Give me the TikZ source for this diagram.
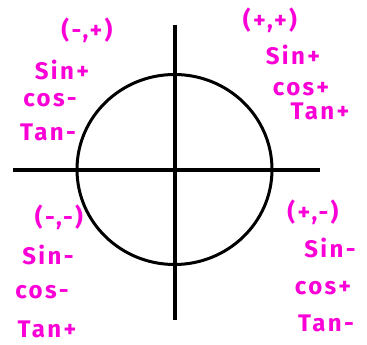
\documentclass[tikz,border=0pt]{standalone}
\usepackage{fontspec}
\setmainfont{Fira Sans}[LetterSpace=10]
\definecolor{pen}{RGB}{250,0,215}
\begin{document}
\begin{tikzpicture}[x=1pt,y=-1pt,
  lbl/.style={text=pen,font=\fontsize{24}{26}\selectfont\bfseries,inner sep=0pt,anchor=center},
  axis/.style={line width=4pt},
  ring/.style={line width=3pt}]
\useasboundingbox (0,0) rectangle (367,345);
% axes
\coordinate (L) at (13,170);
\coordinate (R) at (320,170);
\coordinate (T) at (174.5,25);
\coordinate (B) at (174.5,320);
\coordinate (O) at (174.5,169.5);
\draw[axis] (L) -- (R);
\draw[axis] (T) -- (B);
\draw[ring] (O) ellipse [x radius=97.5, y radius=95];
% quadrant II
\node[lbl] (q2a) at (87,30) {(-,+)};
\node[lbl] (q2b) at (62,70) {Sin+};
\node[lbl] (q2c) at (50,100) {cos-};
\node[lbl] (q2d) at (48,132) {Tan-};
% quadrant I
\node[lbl] (q1a) at (270,20) {(+,+)};
\node[lbl] (q1b) at (293,55) {Sin+};
\node[lbl] (q1c) at (301,89) {cos+};
\node[lbl] (q1d) at (320,111) {Tan+};
% quadrant III
\node[lbl] (q3a) at (59,217) {(-,-)};
\node[lbl] (q3b) at (48,255) {Sin-};
\node[lbl] (q3c) at (42,292) {cos-};
\node[lbl] (q3d) at (47,329) {Tan+};
% quadrant IV
\node[lbl] (q4a) at (313,212) {(+,-)};
\node[lbl] (q4b) at (330,248) {Sin-};
\node[lbl] (q4c) at (323,288) {cos+};
\node[lbl] (q4d) at (326,323) {Tan-};
\end{tikzpicture}
\end{document}
